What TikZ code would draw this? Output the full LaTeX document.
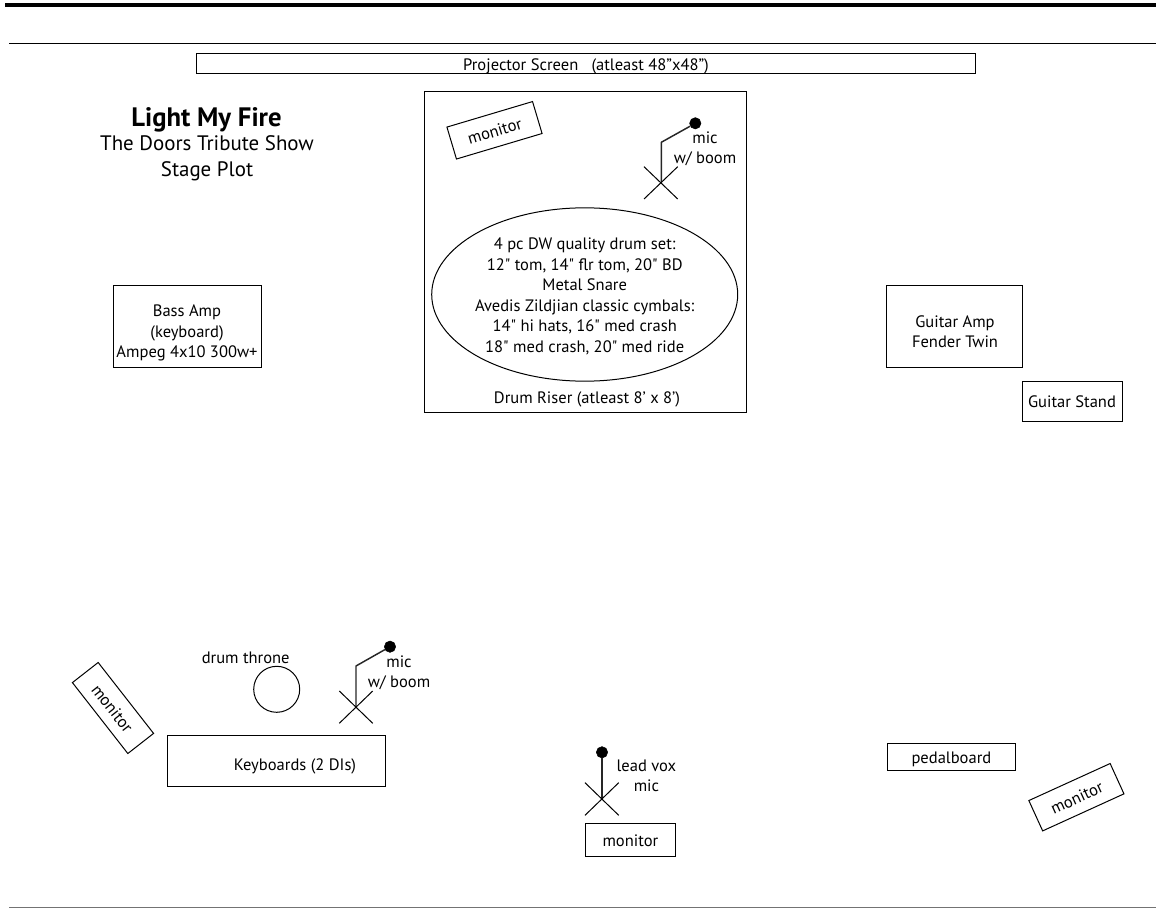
\documentclass[tikz,border=0pt]{standalone}
\usepackage{fontspec}
\setmainfont{PT Sans}[Ligatures=TeXOff]
\usetikzlibrary{shapes.geometric}
\tikzset{
  box/.style={draw=black,line width=0.75pt,inner sep=0pt,align=center,font=\body},
  label/.style={inner sep=0pt,align=center,font=\body},
  stem/.style={draw=black!85,line width=1.1pt,line join=round},
  cross/.style={draw=black,line width=0.75pt},
  ball/.style={circle,fill=black,draw=black,inner sep=0pt,minimum size=8.5pt},
}
\newcommand{\body}{\fontsize{12.4}{15.4}\selectfont}
\newcommand{\dn}[1]{\rule{0pt}{9.8pt}\smash{#1}}
\begin{document}
\begin{tikzpicture}[x=0.75pt,y=-0.75pt]
\useasboundingbox (0,0) rectangle (1156,909);
% rules
\coordinate (t1) at (5,5.3); \coordinate (t2) at (1156,5.3);
\coordinate (m1) at (9,43.7); \coordinate (m2) at (1156,43.7);
\coordinate (b1) at (9,907.3); \coordinate (b2) at (1156,907.3);
\draw[line width=3pt] (t1) -- (t2);
\draw[line width=0.9pt] (m1) -- (m2);
\draw[line width=0.9pt,black!55] (b1) -- (b2);
% top
\node[box,minimum width=584pt,minimum height=15pt] (screen) at (586,64) {\dn{Projector Screen\ \ \ (atleast 48”x48”)}};
\node[label,font=\fontsize{20}{20}\selectfont\bfseries] (title) at (206.5,119.5) {Light My Fire};
\node[label,font=\fontsize{15.7}{19.5}\selectfont] (sub) at (207,158) {The Doors Tribute Show\\Stage Plot};
% riser
\node[box,minimum width=241.5pt,minimum height=240.5pt] (riser) at (585,252) {};
\node[label] (riserlabel) at (587,399) {Drum Riser (atleast 8’ x 8’)};
\node[box,rotate=16.6,minimum width=67pt,minimum height=25pt] (mon1) at (494.5,130.3) {\dn{monitor}};
\node[box,ellipse,minimum width=229.5pt,minimum height=130pt] (kit) at (584.7,294.5) {};
\node[label] (kitlabel) at (584.7,296.5) {4 pc DW quality drum set:\\12" tom, 14" flr tom, 20" BD\\Metal Snare\\Avedis Zildjian classic cymbals:\\14" hi hats, 16" med crash\\18" med crash, 20" med ride};
\node[ball] (ball1) at (695.3,123.3) {};
\coordinate (bend1) at (661.3,142.3); \coordinate (foot1) at (661.3,182.7);
\draw[stem] (ball1) -- (bend1) -- (foot1);
\coordinate (x1a) at (644,166.7); \coordinate (x1b) at (677.7,199);
\coordinate (x1c) at (644,199); \coordinate (x1d) at (677.7,166.7);
\draw[cross] (x1a) -- (x1b); \draw[cross] (x1c) -- (x1d);
\node[label] (mic1) at (705,149) {mic\\w/ boom};
% amps
\node[box,minimum width=110.5pt,minimum height=61pt] (bass) at (187.5,326.5) {};
\node[label] (basslabel) at (187,333) {Bass Amp\\(keyboard)\\Ampeg 4x10 300w+};
\node[box,minimum width=101.5pt,minimum height=61pt] (gamp) at (954.5,326.5) {};
\node[label] (gamplabel) at (955,331.5) {Guitar Amp\\Fender Twin};
\node[box,minimum width=75pt,minimum height=30pt] (gstand) at (1072,401) {\dn{Guitar Stand}};
% keyboards
\node[box,minimum width=163.5pt,minimum height=38.5pt] (keys) at (276.7,761) {};
\node[label] (keyslabel) at (295,766) {Keyboards (2 DIs)};
\node[box,rotate=-52,minimum width=67.5pt,minimum height=24.5pt] (mon2) at (113,708) {\dn{monitor}};
\node[label] (thronelabel) at (245.7,658) {drum throne};
\node[draw=black,line width=0.75pt,circle,inner sep=0pt,minimum size=34.5pt] (throne) at (276.7,689.3) {};
\node[ball] (ball2) at (390,646.7) {};
\coordinate (bend2) at (356,666); \coordinate (foot2) at (356,707.3);
\draw[stem] (ball2) -- (bend2) -- (foot2);
\coordinate (x2a) at (339.3,691); \coordinate (x2b) at (372.7,723.3);
\coordinate (x2c) at (339.3,723.3); \coordinate (x2d) at (372.7,691);
\draw[cross] (x2a) -- (x2b); \draw[cross] (x2c) -- (x2d);
\node[label] (mic2) at (399,673) {mic\\w/ boom};
% lead vox
\node[ball] (ball3) at (602,752.3) {};
\coordinate (foot3) at (602,798.3);
\draw[stem] (ball3) -- (foot3);
\coordinate (x3a) at (585,782.7); \coordinate (x3b) at (618.7,815.3);
\coordinate (x3c) at (585,815.3); \coordinate (x3d) at (618.7,782.7);
\draw[cross] (x3a) -- (x3b); \draw[cross] (x3c) -- (x3d);
\node[label] (vox) at (646.4,776) {lead vox\\mic};
\node[box,minimum width=67.5pt,minimum height=25pt] (mon3) at (630.4,840) {\dn{monitor}};
% guitar side
\node[box,minimum width=95.5pt,minimum height=20pt] (pedal) at (951.4,757) {\dn{pedalboard}};
\node[box,rotate=24.5,minimum width=67pt,minimum height=25pt] (mon4) at (1076.4,797.2) {\dn{monitor}};
\end{tikzpicture}
\end{document}
